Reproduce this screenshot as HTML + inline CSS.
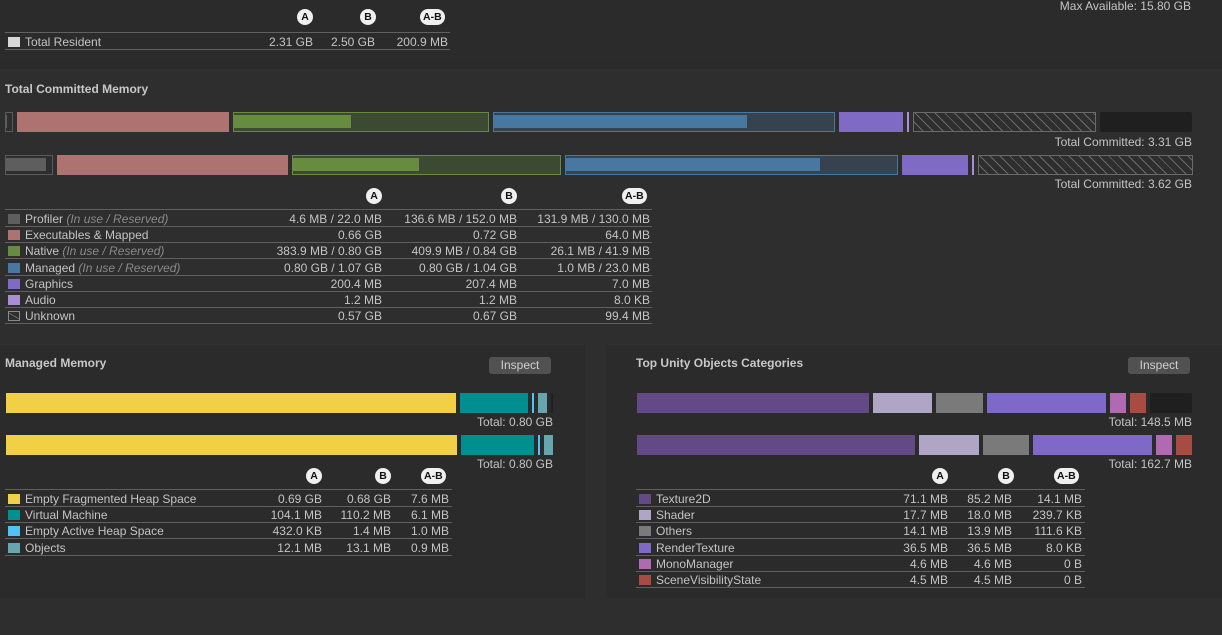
<!DOCTYPE html>
<html><head><meta charset="utf-8">
<style>
*{box-sizing:border-box;margin:0;padding:0}
body{width:1222px;height:635px;background:#2e2e2e;font-family:"Liberation Sans",sans-serif;font-size:12px;color:#c4c4c4;position:relative;overflow:hidden}
.abs{position:absolute}
.title{font-weight:bold;color:#c8c8c8;font-size:12px}
.badge{position:absolute;height:16px;min-width:16px;border-radius:8px;background:#f0f0f0;color:#111;font-weight:bold;font-size:10.5px;line-height:16px;text-align:center;padding:0 3px}
.line{position:absolute;height:1px;background:#606060}
.cell{position:absolute;white-space:nowrap;line-height:16px}
.sw{position:absolute;width:12px;height:10px}
.btn{position:absolute;height:17px;background:#515151;border-radius:3px;color:#d0d0d0;text-align:center;line-height:17px;font-size:12px}
.seg{position:absolute}
.hatch{background:repeating-linear-gradient(45deg,#2e2e2e 0 6px,#6a6a6a 6px 7px);border:1px solid #6a6a6a}
.it{font-style:italic;color:#8a8a8a}
</style></head>
<body>
<div class="abs" style="left:0;top:0;width:1222px;height:62px;background:#2b2b2b"></div>
<div class="abs" style="left:0;top:62px;width:1222px;height:7px;background:#2a2a2a"></div>
<div class="abs" style="left:0;top:345px;width:585px;height:253px;background:#2b2b2b"></div>
<div class="abs" style="left:606px;top:345px;width:616px;height:253px;background:#2b2b2b"></div>

<div class="cell" style="right:31px;top:-2px;line-height:18px;top:-3px">Max Available: 15.80 GB</div>
<div class="title abs" style="left:5px;top:82px">Total Committed Memory</div>
<div class="title abs" style="left:5px;top:356px">Managed Memory</div>
<div class="title abs" style="left:636px;top:356px">Top Unity Objects Categories</div>
<div class="btn" style="left:489px;top:357px;width:62px">Inspect</div>
<div class="btn" style="left:1128px;top:357px;width:62px">Inspect</div>

<div id="root"></div>
<script>
// ---- data ----
const residentNames=["Total Resident"];
const residentA=["2.31 GB"],residentB=["2.50 GB"],residentD=["200.9 MB"];

const committedNames=["Profiler","Executables & Mapped","Native","Managed","Graphics","Audio","Unknown"];
const committedSub=["(In use / Reserved)","","(In use / Reserved)","(In use / Reserved)","","",""];
const committedReservedA=[0.0215,0.66,0.80,1.07,0.196,0.0012,0.57];
const committedInUseA=[0.0045,0.66,0.375,0.80,0.196,0.0012,0.57];
const committedReservedB=[0.148,0.72,0.84,1.04,0.2025,0.0012,0.67];
const committedInUseB=[0.133,0.72,0.40,0.80,0.2025,0.0012,0.67];
const committedTextA=["4.6 MB / 22.0 MB","0.66 GB","383.9 MB / 0.80 GB","0.80 GB / 1.07 GB","200.4 MB","1.2 MB","0.57 GB"];
const committedTextB=["136.6 MB / 152.0 MB","0.72 GB","409.9 MB / 0.84 GB","0.80 GB / 1.04 GB","207.4 MB","1.2 MB","0.67 GB"];
const committedTextD=["131.9 MB / 130.0 MB","64.0 MB","26.1 MB / 41.9 MB","1.0 MB / 23.0 MB","7.0 MB","8.0 KB","99.4 MB"];
const committedTotals=["Total Committed: 3.31 GB","Total Committed: 3.62 GB"];

const managedNames=["Empty Fragmented Heap Space","Virtual Machine","Empty Active Heap Space","Objects"];
const managedA=[690,104.1,0.42,12.1];
const managedB=[692,110.2,1.4,13.1];
const managedTextA=["0.69 GB","104.1 MB","432.0 KB","12.1 MB"];
const managedTextB=["0.68 GB","110.2 MB","1.4 MB","13.1 MB"];
const managedTextD=["7.6 MB","6.1 MB","1.0 MB","0.9 MB"];
const managedTotals=["Total: 0.80 GB","Total: 0.80 GB"];

const unityNames=["Texture2D","Shader","Others","RenderTexture","MonoManager","SceneVisibilityState"];
const unityA=[71.1,17.7,14.1,36.5,4.6,4.5];
const unityB=[85.2,18.0,13.9,36.5,4.6,4.5];
const unityTextA=["71.1 MB","17.7 MB","14.1 MB","36.5 MB","4.6 MB","4.5 MB"];
const unityTextB=["85.2 MB","18.0 MB","13.9 MB","36.5 MB","4.6 MB","4.5 MB"];
const unityTextD=["14.1 MB","239.7 KB","111.6 KB","8.0 KB","0 B","0 B"];
const unityTotals=["Total: 148.5 MB","Total: 162.7 MB"];

// ---- styles (not data) ----
const committedColors=["#5e5e5e","#ae7370","#678b3f","#4878a0","#7f6bc6","#a98dd8","hatch"];
const committedBg={0:"#2e2e2e",2:"#3d4a33",3:"#36434e"};
const managedColors=["#f2d045","#008f8f","#4fc3f7","#66a6ae"];
const unityColors=["#634a87","#aea6c4","#7a7a7a","#7e69c8","#b06ab2","#a64c42"];

const root=document.getElementById('root');
function mk(cls,style,txt){const d=document.createElement('div');d.className=cls;d.style.cssText=style;if(txt!==undefined)d.textContent=txt;root.appendChild(d);return d;}

function drawBar(name,y,h,x0,width,vals,inUse,colors,maxTotal,bgs,minW){
  const gap=4,n=vals.length;
  const scale=(width-gap*(n-1)-n*1)/maxTotal;
  let x=x0;
  vals.forEach((v,i)=>{
    const w=Math.max(minW||2,v*scale+1);
    const c=colors[i];
    let s;
    if(c==="hatch"){
      s=mk('seg hatch',`left:${x}px;top:${y}px;width:${w}px;height:${h}px`);
    }else if(inUse&&bgs&&bgs[i]!==undefined){
      s=mk('seg',`left:${x}px;top:${y}px;width:${w}px;height:${h}px;background:${bgs[i]};border:1px solid ${c==="#5e5e5e"?"#5a5a5a":c}`);
      const fw=Math.max(1,inUse[i]*scale-2);
      const f=mk('seg',`left:${x+1}px;top:${y+3}px;width:${fw}px;height:${h-7}px;background:${c}`);
      
      
    }else{
      s=mk('seg',`left:${x}px;top:${y}px;width:${w}px;height:${h}px;background:${c}`);
    }
    
    
    x+=w+gap;
  });
  const rem=x0+width-(x-gap);
  if(rem>3){
    const r=mk('seg',`left:${x}px;top:${y}px;width:${rem-4}px;height:${h}px;background:#1f1f1f;border-radius:2px`);
    
    
  }
}
function sum(a){return a.reduce((p,q)=>p+q,0);}
function totalLabel(name,txt,right,y){
  const t=mk('cell',`right:${1222-right}px;top:${y}px`,txt);
  
  
}
function badges(prefix,xs,y){
  ["A","B","A-B"].forEach((b,i)=>{
    const e=mk('badge',`left:${xs[i]-(b==="A-B"?15:8)}px;top:${y}px`,b);
    
    
  });
}
function table(prefix,names,subs,ta,tb,td,colors,left,right,rights,top,headY,badgeXs){
  badges(prefix,badgeXs,headY);
  const l0=mk('line',`left:${left}px;top:${top-2}px;width:${right-left}px`);
  
  
  names.forEach((n,i)=>{
    const y=top+i*16.2;
    const c=colors[i];
    let sw;
    if(c==="hatch"){sw=mk('sw',`left:${left+3}px;top:${y+3}px;border:1px solid #8a8a8a;background:linear-gradient(30deg,transparent 45%,#8a8a8a 50%,transparent 55%)`);}
    else sw=mk('sw',`left:${left+3}px;top:${y+3}px;background:${c}`);
    
    
    const lab=mk('cell',`left:${left+20}px;top:${y}px`);
    lab.textContent=n;
    if(subs&&subs[i]){const sp=document.createElement('span');sp.className='it';sp.textContent=' '+subs[i];lab.appendChild(sp);}
    
    
    [ta,tb,td].forEach((arr,k)=>{
      const v=mk('cell',`right:${1222-rights[k]}px;top:${y}px`,arr[i]);
      
      
    });
    const ln=mk('line',`left:${left}px;top:${y+15}px;width:${right-left}px`);
    
    
  });
}

// resident
table('resident',residentNames,null,residentA,residentB,residentD,["#d8d8d8"],5,450,[313,375,448],34,9,[305,368,435]);

// committed
const cMax=Math.max(sum(committedReservedA),sum(committedReservedB));
drawBar('committed-a',112,20,5,1187,committedReservedA,committedInUseA,committedColors,cMax,committedBg,2);
drawBar('committed-b',155,20,5,1187,committedReservedB,committedInUseB,committedColors,cMax,committedBg,2);
totalLabel('committed-total-a',committedTotals[0],1192,134);
totalLabel('committed-total-b',committedTotals[1],1192,176);
table('committed',committedNames,committedSub,committedTextA,committedTextB,committedTextD,committedColors,5,652,[382,517,650],211,188,[374,509,637]);

// managed
const mMax=Math.max(sum(managedA),sum(managedB));
drawBar('managed-a',393,20,6,547,managedA,null,managedColors,mMax,null,2);
drawBar('managed-b',435,20,6,547,managedB,null,managedColors,mMax,null,2);
totalLabel('managed-total-a',managedTotals[0],553,414);
totalLabel('managed-total-b',managedTotals[1],553,456);
table('managed',managedNames,null,managedTextA,managedTextB,managedTextD,managedColors,5,452,[322,391,449],491,468,[314,383,436]);

// unity objects
const uMax=Math.max(sum(unityA),sum(unityB));
drawBar('unity-a',393,20,637,555,unityA,null,unityColors,uMax,null,2);
drawBar('unity-b',435,20,637,555,unityB,null,unityColors,uMax,null,2);
totalLabel('unity-total-a',unityTotals[0],1192,414);
totalLabel('unity-total-b',unityTotals[1],1192,456);
table('unity',unityNames,null,unityTextA,unityTextB,unityTextD,unityColors,636,1085,[948,1012,1082],491,468,[940,1006,1069]);
</script>
</body></html>
